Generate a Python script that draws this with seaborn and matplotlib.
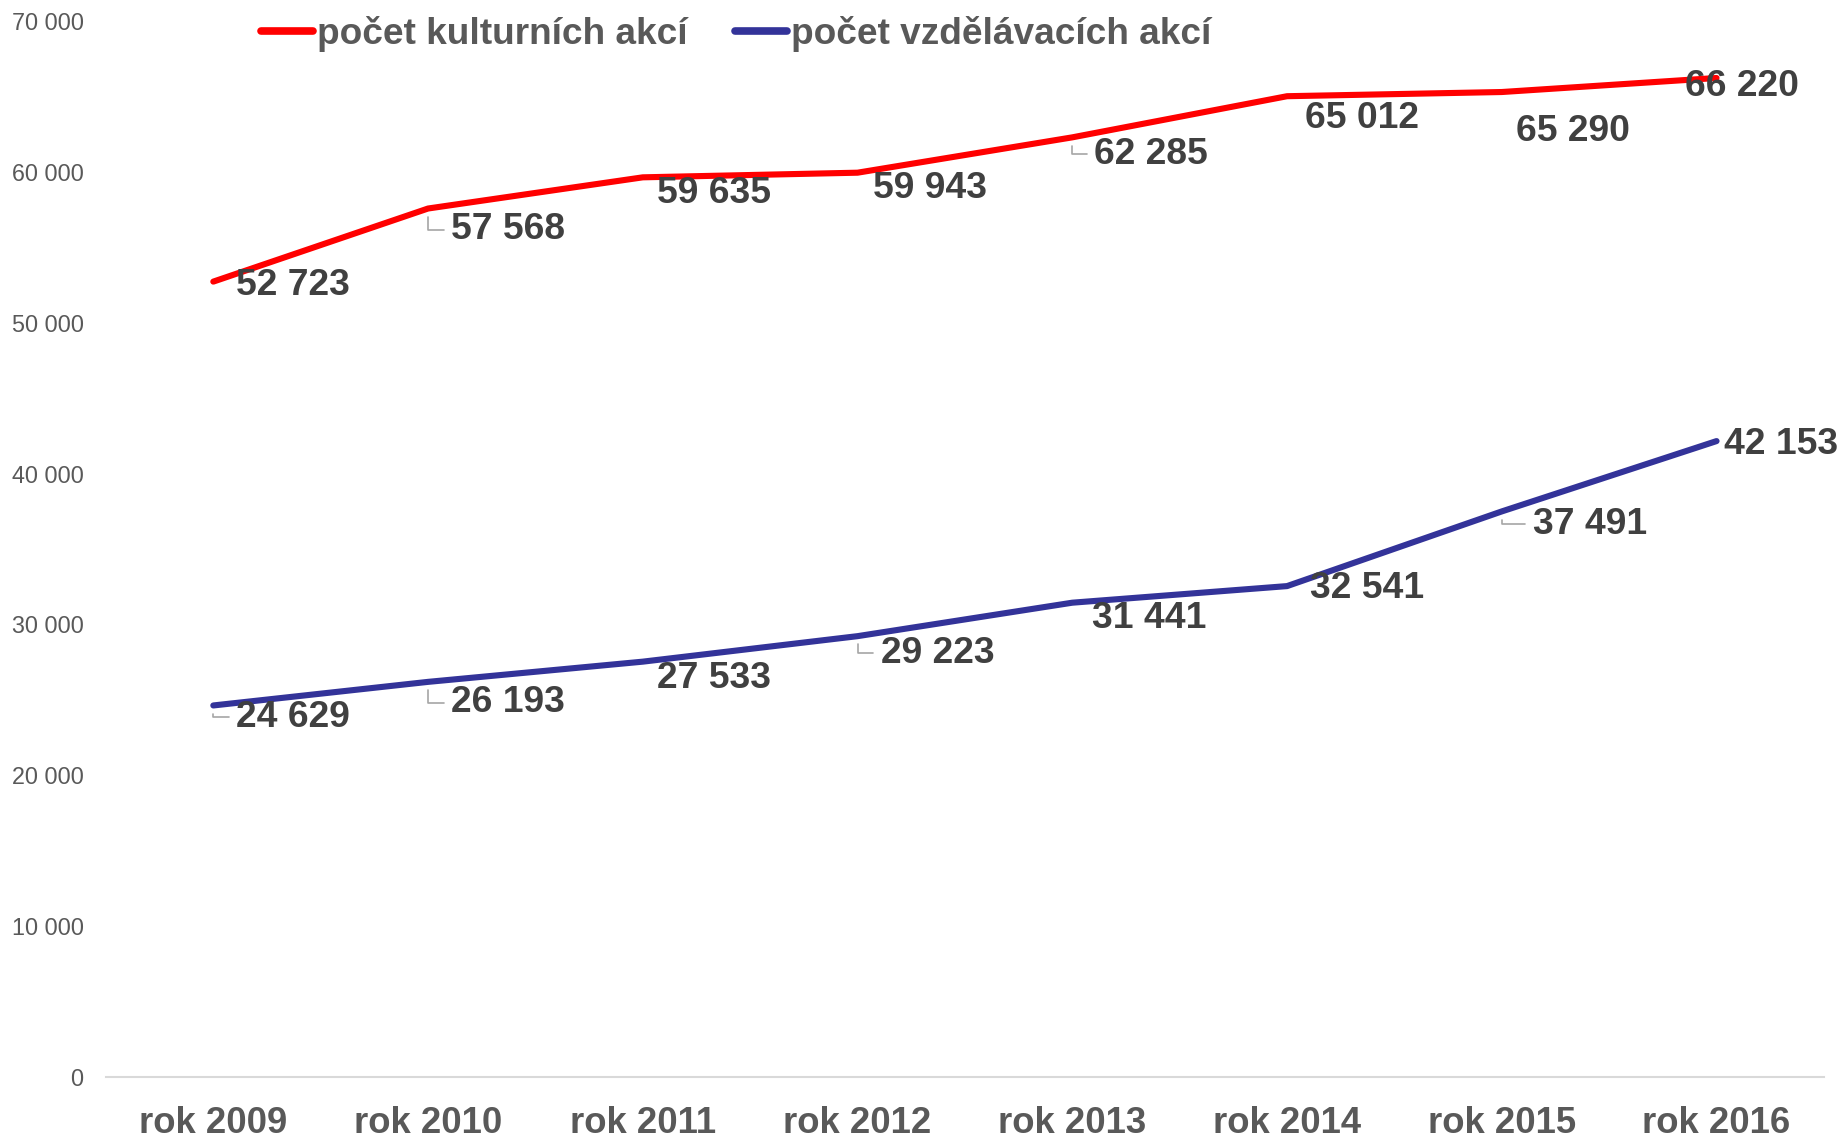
import numpy as np
import pandas as pd
import matplotlib
matplotlib.use("Agg")
import matplotlib.pyplot as plt
from matplotlib import font_manager
import seaborn as sns

# data
roky = ["rok 2009", "rok 2010", "rok 2011", "rok 2012", "rok 2013", "rok 2014", "rok 2015", "rok 2016"]
kulturni = [52723, 57568, 59635, 59943, 62285, 65012, 65290, 66220]
vzdelavaci = [24629, 26193, 27533, 29223, 31441, 32541, 37491, 42153]
serie_names = ["počet kulturních akcí", "počet vzdělávacích akcí"]
colors = ["#FF0000", "#333399"]

# label offsets (px right, px down) from the point, and which ones get a leader line
off_kult = [(23, 4), (23, 21), (14, 16), (15, 16), (22, 17), (18, 22), (14, 39), (-32, 9)]
off_vzdel = [(23, 12), (23, 21), (14, 17), (23, 17), (20, 16), (23, 2), (31, 13), (7, 3)]
lead_kult = [1, 4]
lead_vzdel = [0, 1, 3, 6]

sns.set_style("white")
names = {f.name for f in font_manager.fontManager.ttflist}
narrow = "Liberation Sans Narrow" if "Liberation Sans Narrow" in names else "Liberation Sans"
scale = 1.0 if narrow == "Liberation Sans Narrow" else 0.82
plt.rcParams["font.family"] = ["Liberation Sans", "DejaVu Sans"]

df = pd.DataFrame({
    "rok": roky * 2,
    "hodnota": kulturni + vzdelavaci,
    "serie": [serie_names[0]] * len(roky) + [serie_names[1]] * len(roky),
})

fig = plt.figure(figsize=(18.39, 11.39), dpi=100)
ax = fig.add_axes([0.0576, 0.0544, 0.9342, 0.9272])

sns.lineplot(data=df, x="rok", y="hodnota", hue="serie", palette=colors,
             sort=False, linewidth=4.4, ax=ax, legend=True)
for ln in ax.lines:
    ln.set_solid_capstyle("round")
    ln.set_solid_joinstyle("round")

ax.set_xlim(-0.5, len(roky) - 0.5)
ax.set_ylim(0, 70000)
ax.set_yticks(np.arange(0, 70001, 10000))
ax.set_yticklabels([f"{v:,}".replace(",", " ") for v in range(0, 70001, 10000)],
                   fontsize=20.5 * scale, color="#595959", family=narrow)
ax.set_xticks(range(len(roky)))
ax.set_xticklabels(roky, fontsize=32 * scale, fontweight="bold", color="#595959", family=narrow)
ax.tick_params(axis="y", length=0, pad=16)
ax.tick_params(axis="x", length=0, pad=21)
ax.set_xlabel("")
ax.set_ylabel("")
for s in ["left", "right", "top"]:
    ax.spines[s].set_visible(False)
ax.spines["bottom"].set_color("#D9D9D9")
ax.spines["bottom"].set_linewidth(1.5)


def fmt(v):
    return f"{v:,}".replace(",", " ")


def labels(values, offsets, leaders):
    for i, (v, (dx, dy)) in enumerate(zip(values, offsets)):
        kw = {}
        if i in leaders:
            kw["arrowprops"] = dict(arrowstyle="-", color="#A6A6A6", lw=1.2,
                                    connectionstyle="angle,angleA=0,angleB=90,rad=0",
                                    relpos=(0, 0.5), shrinkA=3, shrinkB=6)
        ax.annotate(fmt(v), xy=(i, v), xytext=(dx * 0.72, -dy * 0.72),
                    textcoords="offset points", ha="left", va="center",
                    fontsize=26.8, fontweight="bold", color="#404040", zorder=5, **kw)


labels(kulturni, off_kult, lead_kult)
labels(vzdelavaci, off_vzdel, lead_vzdel)

leg = ax.legend(loc="center left", bbox_to_anchor=(0.124, 0.970), bbox_transform=fig.transFigure,
                ncol=2, frameon=False, handlelength=1.4, handletextpad=0.1, columnspacing=1.3,
                prop=dict(family=narrow, weight="bold", size=32.5 * scale))
for t in leg.get_texts():
    t.set_color("#595959")
for h in leg.legend_handles:
    h.set_linewidth(5.5)
    h.set_solid_capstyle("round")

fig.savefig("out.png", dpi=100)
